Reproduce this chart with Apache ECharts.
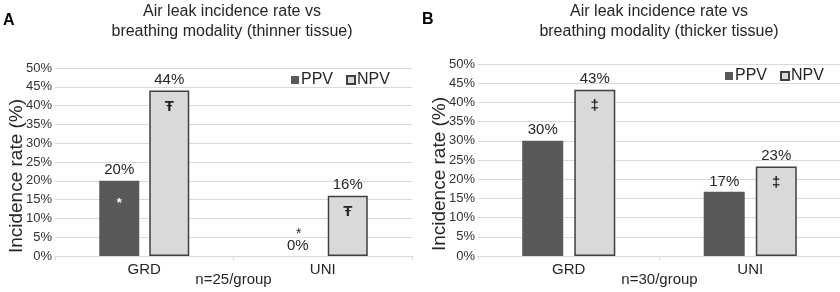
<!DOCTYPE html>
<html>
<head>
<meta charset="utf-8">
<script src="https://cdn.jsdelivr.net/npm/echarts@6/dist/echarts.min.js"></script>
<style>
  html, body { margin: 0; padding: 0; background: #fff; }
  #main { width: 840px; height: 292px; }
</style>
</head>
<body>
<div id="main"></div>
<script>
  // shared
  var categories = ['GRD', 'UNI'];
  var legendNames = ['PPV', 'NPV'];

  // panel A - thinner tissue
  var titleA = 'Air leak incidence rate vs\nbreathing modality (thinner tissue)';
  var nameA = 'n=25/group';
  var ppvA = [20, 0];
  var npvA = [44, 16];
  var ppvMarksA = ['*', '*'];
  var npvMarksA = ['Ŧ', 'Ŧ'];

  // panel B - thicker tissue
  var titleB = 'Air leak incidence rate vs\nbreathing modality (thicker tissue)';
  var nameB = 'n=30/group';
  var ppvB = [30, 16.7];
  var npvB = [43.3, 23.3];
  var ppvMarksB = ['', ''];
  var npvMarksB = ['‡', '‡'];

  var font = 'Liberation Sans, Arial, sans-serif';
  var txt = '#262626';

  function pctLabel(marks) {
    return {
      show: true,
      position: 'top',
      distance: 2,
      color: txt,
      fontSize: 15,
      fontFamily: font,
      formatter: function (p) {
        var s = '{v|' + Math.round(p.value) + '%}';
        if (p.value === 0 && marks[p.dataIndex]) s = '{m|' + marks[p.dataIndex] + '}\n' + s;
        return s;
      },
      rich: {
        v: { fontSize: 15, color: txt, fontFamily: font, lineHeight: 17 },
        m: { fontSize: 14, color: txt, fontFamily: font, lineHeight: 6, padding: [0, 0, 0, 2] }
      }
    };
  }

  function innerMarks(vals, marks, color, size, offset) {
    var d = [];
    for (var i = 0; i < vals.length; i++) {
      if (marks[i] && vals[i] > 0) {
        d.push({ name: marks[i], coord: [categories[i], vals[i]] });
      }
    }
    return {
      symbol: 'rect',
      symbolSize: 1,
      itemStyle: { color: 'rgba(0,0,0,0)' },
      silent: true,
      animation: false,
      label: {
        show: true,
        position: 'inside',
        offset: [0, offset],
        color: color,
        fontSize: size,
        fontWeight: 'bold',
        fontFamily: font,
        formatter: function (p) { return p.name; }
      },
      data: d
    };
  }

  function xAx(idx, name) {
    return {
      type: 'category',
      gridIndex: idx,
      data: categories,
      name: name,
      nameLocation: 'middle',
      nameGap: 16,
      nameMoveOverlap: false,
      nameTextStyle: { color: txt, fontSize: 15, fontFamily: font },
      axisLine: { lineStyle: { color: '#d9d9d9' } },
      axisTick: { show: true, length: 4, lineStyle: { color: '#d9d9d9' } },
      axisLabel: { color: txt, fontSize: 15, fontFamily: font, margin: 6 }
    };
  }

  function yAx(idx) {
    return {
      type: 'value',
      gridIndex: idx,
      min: 0,
      max: 50,
      interval: 5,
      name: 'Incidence rate (%)',
      nameLocation: 'middle',
      nameGap: 29,
      nameMoveOverlap: false,
      nameTextStyle: { color: txt, fontSize: 19, fontFamily: font, padding: [0, 28, 0, 0] },
      axisLine: { show: false },
      axisTick: { show: false },
      axisLabel: { color: '#333', fontSize: 13, fontFamily: font, margin: 3, formatter: '{value}%' },
      splitLine: { lineStyle: { color: '#d9d9d9' } }
    };
  }

  var ppvStyle = { color: '#595959' };
  var npvStyle = { color: '#d9d9d9', borderColor: '#404040', borderWidth: 1.5 };

  var titleStyle = { fontSize: 16, fontWeight: 'normal', color: txt, lineHeight: 20, fontFamily: font };
  var letterStyle = { fontSize: 16, fontWeight: 'bold', color: '#000', fontFamily: font };
  var legendText = { color: txt, fontSize: 16, fontFamily: font, padding: [0, 0, 0, -3] };

  var chart = echarts.init(document.getElementById('main'));
  chart.setOption({
    animation: false,
    textStyle: { fontFamily: font },
    title: [
      { text: titleA, left: 232, top: 2, padding: 0, textAlign: 'center', textStyle: titleStyle },
      { text: titleB, left: 659, top: 2, padding: 0, textAlign: 'center', textStyle: titleStyle },
      { text: 'A', left: 3, top: 13, padding: 0, textStyle: letterStyle },
      { text: 'B', left: 422, top: 12, padding: 0, textStyle: letterStyle }
    ],
    legend: [
      { data: legendNames, left: 291, top: 72, padding: 0, icon: 'rect', itemWidth: 8, itemHeight: 8, itemGap: 13,
        textStyle: legendText },
      { data: legendNames, left: 725, top: 68, padding: 0, icon: 'rect', itemWidth: 8, itemHeight: 8, itemGap: 13,
        textStyle: legendText }
    ],
    grid: [
      { left: 55, top: 68, width: 357, height: 188, outerBoundsMode: 'none', containLabel: false },
      { left: 478, top: 64, width: 363, height: 192, outerBoundsMode: 'none', containLabel: false }
    ],
    xAxis: [xAx(0, nameA), xAx(1, nameB)],
    yAxis: [yAx(0), yAx(1)],
    series: [
      { name: 'PPV', type: 'bar', xAxisIndex: 0, yAxisIndex: 0, data: ppvA,
        barWidth: 40, barGap: '25%', itemStyle: ppvStyle, label: pctLabel(ppvMarksA),
        markPoint: innerMarks(ppvA, ppvMarksA, '#fff', 13, 23) },
      { name: 'NPV', type: 'bar', xAxisIndex: 0, yAxisIndex: 0, data: npvA,
        barWidth: 40, barGap: '25%', itemStyle: npvStyle, label: pctLabel(npvMarksA),
        markPoint: innerMarks(npvA, npvMarksA, '#222', 15, 16) },
      { name: 'PPV', type: 'bar', xAxisIndex: 1, yAxisIndex: 1, data: ppvB,
        barWidth: 41, barGap: '27%', itemStyle: ppvStyle, label: pctLabel(ppvMarksB),
        markPoint: innerMarks(ppvB, ppvMarksB, '#fff', 13, 23) },
      { name: 'NPV', type: 'bar', xAxisIndex: 1, yAxisIndex: 1, data: npvB,
        barWidth: 41, barGap: '27%', itemStyle: npvStyle, label: pctLabel(npvMarksB),
        markPoint: innerMarks(npvB, npvMarksB, '#222', 15, 16) }
    ]
  });
</script>
</body>
</html>
